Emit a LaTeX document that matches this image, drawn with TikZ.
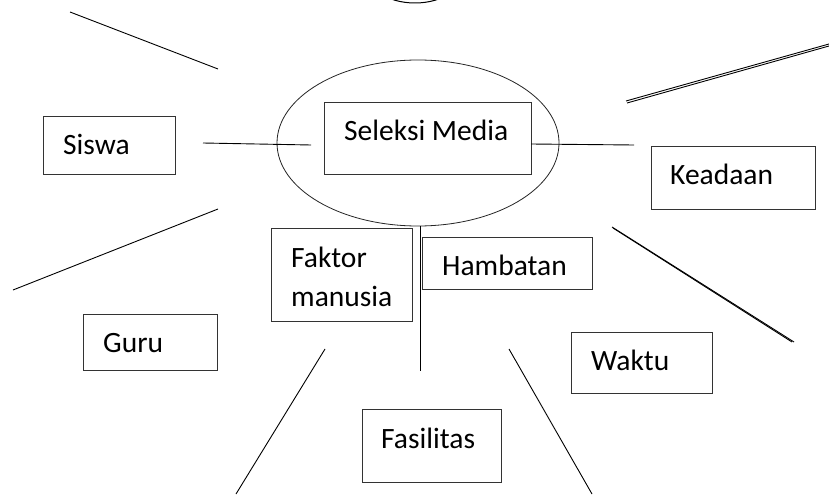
\documentclass[tikz,border=0pt]{standalone}
\usepackage{fontspec}
\setmainfont{Carlito}
\usetikzlibrary{shapes.geometric}
\begin{document}
\begin{tikzpicture}[x=1pt,y=-1pt,
  box/.style={draw=black!80, line width=1pt, rectangle, inner sep=0pt, anchor=north west},
  txt/.style={inner sep=0pt, anchor=base west, font=\fontsize{29.5}{39}\selectfont, align=left},
  spoke/.style={draw=black, line width=0.9pt}]
\useasboundingbox (0,0) rectangle (829,497);
\fill[white] (0,0) rectangle (829,497);
% partial ellipse at top edge
\begin{scope}
\clip (0,0) rectangle (829,497);
\draw[line width=1pt] (415,-30) ellipse [x radius=50pt, y radius=33pt];
\end{scope}
% central ellipse and box
\node[draw=black!85, line width=0.8pt, ellipse, minimum width=282pt, minimum height=166pt, inner sep=0pt] (oval) at (418,143) {};
\node[box, minimum width=207pt, minimum height=72pt] (seleksi) at (324,102) {};
\node[txt] (seleksiT) at (344,141) {Seleksi Media};
% boxes
\node[box, minimum width=132pt, minimum height=58pt] (siswa) at (43,116) {};
\node[txt] (siswaT) at (63,155) {Siswa};
\node[box, minimum width=164pt, minimum height=63pt] (keadaan) at (651,146) {};
\node[txt] (keadaanT) at (670,184) {Keadaan};
\node[box, minimum width=141pt, minimum height=93pt] (faktor) at (271,228) {};
\node[txt] (faktorT) at (291,306) {Faktor\\manusia};
\node[box, minimum width=170pt, minimum height=52pt] (hambatan) at (422,237) {};
\node[txt] (hambatanT) at (442,275) {Hambatan};
\node[box, minimum width=134pt, minimum height=56pt] (guru) at (83,314) {};
\node[txt] (guruT) at (103,352) {Guru};
\node[box, minimum width=141pt, minimum height=61pt] (waktu) at (571,332) {};
\node[txt] (waktuT) at (591,370) {Waktu};
\node[box, minimum width=139pt, minimum height=73pt] (fasilitas) at (362,409) {};
\node[txt] (fasilitasT) at (381,448) {Fasilitas};
% spoke end points
\coordinate (tl1) at (70,12);    \coordinate (tl2) at (218,69);
\coordinate (sw1) at (203,143);  \coordinate (sw2) at (311,145);
\coordinate (bl1) at (13,290);   \coordinate (bl2) at (218,209);
\coordinate (se1) at (531,144);  \coordinate (ke1) at (634,145);
\coordinate (tr1) at (626,101);  \coordinate (tr2) at (829,44);
\coordinate (tr1b) at (627,103); \coordinate (tr2b) at (829,46);
\coordinate (rd1) at (612,227);  \coordinate (rd2) at (794,342);
\coordinate (rd1b) at (613,228); \coordinate (rd2b) at (792,342);
\coordinate (vt1) at (420,226);  \coordinate (vt2) at (420,371);
\coordinate (ll1) at (325,349);  \coordinate (ll2) at (236,494);
\coordinate (lr1) at (509,349);  \coordinate (lr2) at (592,494);
% spokes
\draw[spoke] (tl1) -- (tl2);
\draw[spoke] (sw1) -- (sw2);
\draw[spoke] (bl1) -- (bl2);
\draw[spoke] (se1) -- (ke1);
\draw[spoke] (tr1) -- (tr2);
\draw[spoke] (tr1b) -- (tr2b);
\draw[spoke] (rd1) -- (rd2);
\draw[spoke] (rd1b) -- (rd2b);
\draw[spoke] (vt1) -- (vt2);
\draw[spoke] (ll1) -- (ll2);
\draw[spoke] (lr1) -- (lr2);
\end{tikzpicture}
\end{document}
